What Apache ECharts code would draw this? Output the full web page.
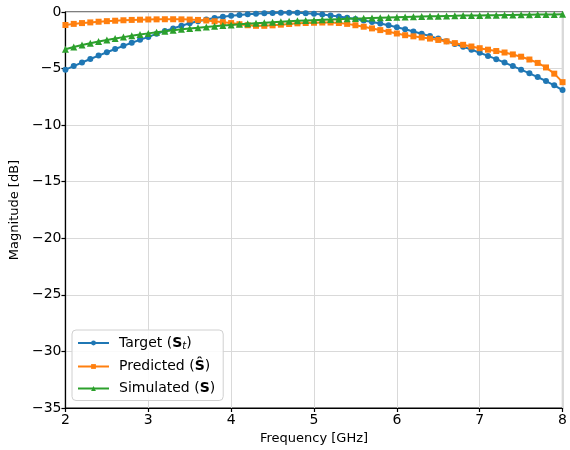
<!DOCTYPE html>
<html>
<head>
<meta charset="utf-8">
<script src="https://cdn.jsdelivr.net/npm/echarts@6/dist/echarts.min.js"></script>
<style>
  html, body { margin: 0; padding: 0; background: #fff; }
  #chart { width: 570px; height: 450px; }
</style>
</head>
<body>
<div id="chart"></div>
<script>
// Frequency sweep (GHz)
const freqGHz = [
  2.0, 2.1, 2.2, 2.3, 2.4, 2.5, 2.6, 2.7, 2.8, 2.9,
  3.0, 3.1, 3.2, 3.3, 3.4, 3.5, 3.6, 3.7, 3.8, 3.9,
  4.0, 4.1, 4.2, 4.3, 4.4, 4.5, 4.6, 4.7, 4.8, 4.9,
  5.0, 5.1, 5.2, 5.3, 5.4, 5.5, 5.6, 5.7, 5.8, 5.9,
  6.0, 6.1, 6.2, 6.3, 6.4, 6.5, 6.6, 6.7, 6.8, 6.9,
  7.0, 7.1, 7.2, 7.3, 7.4, 7.5, 7.6, 7.7, 7.8, 7.9,
  8.0
];

// Target response |S_t| in dB
const targetDb = [
  -5.1, -4.78, -4.46, -4.15, -3.85, -3.56, -3.27, -2.99, -2.72, -2.46,
  -2.2, -1.93, -1.68, -1.45, -1.22, -1.0, -0.82, -0.66, -0.53, -0.42,
  -0.33, -0.26, -0.2, -0.15, -0.11, -0.08, -0.06, -0.06, -0.07, -0.1,
  -0.15, -0.22, -0.3, -0.4, -0.5, -0.62, -0.75, -0.88, -1.02, -1.17,
  -1.35, -1.53, -1.72, -1.92, -2.13, -2.35, -2.58, -2.82, -3.07, -3.33,
  -3.6, -3.88, -4.17, -4.47, -4.78, -5.1, -5.42, -5.75, -6.1, -6.48,
  -6.9
];

// Predicted response |Ŝ| in dB
const predictedDb = [
  -1.15, -1.05, -0.98, -0.92, -0.86, -0.81, -0.77, -0.73, -0.7, -0.68,
  -0.66, -0.65, -0.64, -0.64, -0.65, -0.67, -0.7, -0.75, -0.82, -0.9,
  -0.98, -1.08, -1.17, -1.22, -1.22, -1.18, -1.12, -1.06, -1.0, -0.97,
  -0.95, -0.93, -0.93, -0.97, -1.05, -1.17, -1.3, -1.45, -1.6, -1.75,
  -1.9, -2.05, -2.15, -2.25, -2.35, -2.47, -2.6, -2.75, -2.9, -3.05,
  -3.2, -3.33, -3.45, -3.58, -3.75, -3.95, -4.2, -4.5, -4.9, -5.45,
  -6.2
];

// Simulated response |S| in dB
const simulatedDb = [
  -3.3, -3.1, -2.92, -2.76, -2.61, -2.47, -2.34, -2.22, -2.1, -1.99,
  -1.89, -1.79, -1.7, -1.61, -1.53, -1.46, -1.39, -1.32, -1.26, -1.2,
  -1.14, -1.09, -1.04, -0.99, -0.94, -0.9, -0.86, -0.82, -0.78, -0.75,
  -0.72, -0.69, -0.66, -0.63, -0.6, -0.57, -0.55, -0.52, -0.5, -0.48,
  -0.46, -0.44, -0.42, -0.4, -0.38, -0.37, -0.35, -0.34, -0.32, -0.31,
  -0.3, -0.29, -0.28, -0.27, -0.26, -0.25, -0.24, -0.23, -0.22, -0.21,
  -0.2
];

const seriesNames = ['Target', 'Predicted', 'Simulated'];
const legendLabels = {
  Target: 'Target ({b|S}{sub|t})',
  Predicted: 'Predicted ({b|Ŝ})',
  Simulated: 'Simulated ({b|S})'
};

const FONT = 'DejaVu Sans';
const colors = ['#1f77b4', '#ff7f0e', '#2ca02c'];
const symbols = ['circle', 'rect', 'triangle'];
const symbolSizes = [6, 6, 7];
const values = [targetDb, predictedDb, simulatedDb];

const toPairs = arr => freqGHz.map((f, i) => [f, arr[i]]);
const minusSign = v => String(v).replace('-', '\u2212');

const chart = echarts.init(document.getElementById('chart'), null, { renderer: 'canvas' });

chart.setOption({
  animation: false,
  backgroundColor: '#fff',
  color: colors,
  grid: {
    left: 65, right: 7, top: 12, bottom: 42,
    show: true, borderColor: '#000', borderWidth: 1.2, backgroundColor: 'transparent'
  },
  legend: {
    orient: 'vertical',
    left: 72, top: 330,
    itemWidth: 31, itemHeight: 6, itemGap: 8,
    padding: [6, 8, 5, 5],
    backgroundColor: 'rgba(255,255,255,0.85)',
    borderColor: '#d0d0d0', borderWidth: 1, borderRadius: 4,
    data: seriesNames,
    formatter: name => legendLabels[name],
    textStyle: {
      fontFamily: FONT, fontSize: 14, color: '#000', padding: [0, 0, 0, 5],
      rich: {
        b: { fontFamily: FONT, fontSize: 14, fontWeight: 'bold', color: '#000' },
        sub: { fontFamily: FONT, fontSize: 10, fontStyle: 'italic', color: '#000', padding: [7, 0, 0, 0] }
      }
    }
  },
  xAxis: {
    type: 'value', min: 2, max: 8, interval: 1,
    name: 'Frequency [GHz]', nameLocation: 'middle', nameGap: 24,
    nameTextStyle: { fontFamily: FONT, fontSize: 13, color: '#000' },
    axisLine: { show: true, onZero: false, lineStyle: { color: '#000', width: 1.2 } },
    axisTick: { show: true, length: 4, lineStyle: { color: '#000', width: 1.2 } },
    axisLabel: { fontFamily: FONT, fontSize: 14, color: '#000', margin: 5 },
    splitLine: { show: true, lineStyle: { color: '#d9d9d9', width: 1 } }
  },
  yAxis: {
    type: 'value', min: -35, max: 0, interval: 5,
    name: 'Magnitude [dB]', nameLocation: 'middle', nameGap: 37,
    nameTextStyle: { fontFamily: FONT, fontSize: 13, color: '#000' },
    axisLine: { show: true, onZero: false, lineStyle: { color: '#000', width: 1.2 } },
    axisTick: { show: true, length: 4, lineStyle: { color: '#000', width: 1.2 } },
    axisLabel: { fontFamily: FONT, fontSize: 14, color: '#000', margin: 4, formatter: minusSign },
    splitLine: { show: true, lineStyle: { color: '#d9d9d9', width: 1 } }
  },
  series: seriesNames.map((name, i) => ({
    name,
    type: 'line',
    data: toPairs(values[i]),
    symbol: symbols[i],
    symbolSize: symbolSizes[i],
    showAllSymbol: true,
    lineStyle: { width: 2, color: colors[i] },
    itemStyle: { color: colors[i], borderWidth: 0 },
    z: 2 + i,
    clip: false
  }))
});
</script>
</body>
</html>
